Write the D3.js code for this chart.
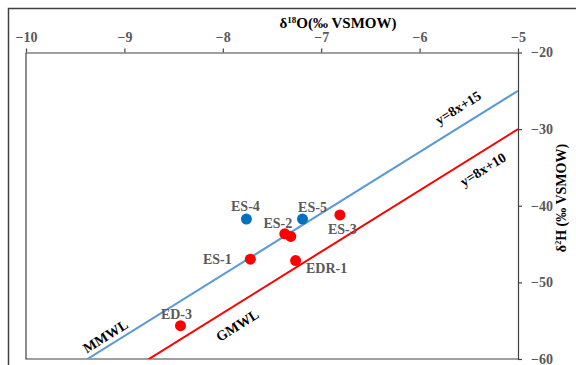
<!DOCTYPE html>
<html>
<head>
<meta charset="utf-8">
<script src="https://cdn.jsdelivr.net/npm/d3@7"></script>
<style>
  body { margin: 0; background: #fff; }
  svg text { font-family: "Liberation Serif", "Times New Roman", serif; font-weight: bold; }
</style>
</head>
<body>
<div id="chart"></div>
<script>
// Sample values
var sampleNames = ["ES-1", "ES-2", "ES-2", "ES-3", "ES-4", "ES-5", "EDR-1", "ED-3"];
var d18O = [-7.72, -7.37, -7.31, -6.81, -7.76, -7.19, -7.26, -8.43];
var d2H = [-46.97, -43.66, -44.0, -41.2, -41.74, -41.74, -47.15, -55.65];
var sampleGroup = ["red", "red", "red", "red", "blue", "blue", "red", "red"];
var showLabel = [true, true, false, true, true, true, true, true];

// Meteoric water lines: dD = slope * d18O + intercept
var lineNames = ["MMWL", "GMWL"];
var lineSlopes = [8, 8];
var lineIntercepts = [15, 10];
var lineEquations = ["y=8x+15", "y=8x+10"];

var xTicks = [-10, -9, -8, -7, -6, -5];
var yTicks = [-60, -50, -40, -30, -20];

var width = 576,
    height = 365;

var plot = { left: 26, right: 518, top: 52.5, bottom: 359 };

var svg = d3.select("#chart")
    .append("svg")
    .attr("width", width)
    .attr("height", height);

// outer chart frame (runs off the right and bottom edges)
svg.append("rect")
    .attr("x", 8.5)
    .attr("y", 8.5)
    .attr("width", width + 20)
    .attr("height", height + 20)
    .attr("fill", "none")
    .attr("stroke", "#404040")
    .attr("stroke-width", 1.5);

var x = d3.scaleLinear().domain([-10, -5]).range([plot.left, plot.right]);
var y = d3.scaleLinear().domain([-60, -20]).range([plot.bottom, plot.top]);

// plot area border on the left and bottom
svg.append("path")
    .attr("d", "M" + plot.left + "," + plot.top + "V" + plot.bottom + "H" + plot.right)
    .attr("fill", "none")
    .attr("stroke", "#404040")
    .attr("stroke-width", 1.2);

var tickColor = "#595959";

// top x axis
var xAxis = svg.append("g")
    .attr("transform", "translate(0," + plot.top + ")")
    .call(d3.axisTop(x).tickValues(xTicks).tickSize(4).tickSizeOuter(0).tickPadding(7).tickFormat(d3.format("d")));

// right y axis
var yAxis = svg.append("g")
    .attr("transform", "translate(" + plot.right + ",0)")
    .call(d3.axisRight(y).tickValues(yTicks).tickSize(4).tickSizeOuter(0).tickPadding(9).tickFormat(d3.format("d")));

[xAxis, yAxis].forEach(function(ax) {
    ax.select(".domain").attr("stroke", "#404040").attr("stroke-width", 1.2);
    ax.selectAll(".tick line").attr("stroke", "#404040").attr("stroke-width", 1.2);
    ax.selectAll(".tick text")
        .attr("fill", tickColor)
        .style("font-size", "14px")
        .style("font-family", "Liberation Serif, serif")
        .style("font-weight", "bold");
});

// axis titles
var xTitle = svg.append("text")
    .attr("x", 338)
    .attr("y", 28)
    .attr("text-anchor", "middle")
    .style("font-size", "15px")
    .attr("fill", "#000");
xTitle.append("tspan").text("δ");
xTitle.append("tspan").attr("dy", -5).style("font-size", "9px").text("18");
xTitle.append("tspan").attr("dy", 5).text("O(‰ VSMOW)");

var yTitle = svg.append("text")
    .attr("transform", "translate(566,198)rotate(-90)")
    .attr("text-anchor", "middle")
    .style("font-size", "14px")
    .attr("fill", "#000");
yTitle.append("tspan").text("δ");
yTitle.append("tspan").attr("dy", -5).style("font-size", "8px").text("2");
yTitle.append("tspan").attr("dy", 5).text("H (‰ VSMOW)");

// clip to plot area
svg.append("clipPath")
    .attr("id", "plot-clip")
    .append("rect")
    .attr("x", plot.left)
    .attr("y", plot.top)
    .attr("width", plot.right - plot.left)
    .attr("height", plot.bottom - plot.top);

var lineColors = ["#5B9BD5", "#FF0000"];

lineNames.forEach(function(name, i) {
    var f = function(v) { return lineSlopes[i] * v + lineIntercepts[i]; };
    svg.append("line")
        .attr("clip-path", "url(#plot-clip)")
        .attr("x1", x(-10)).attr("y1", y(f(-10)))
        .attr("x2", x(-5)).attr("y2", y(f(-5)))
        .attr("stroke", lineColors[i])
        .attr("stroke-width", 2);
});

// slope angle of the lines in screen space
var angle = Math.atan2(y(lineSlopes[0] * -5) - y(lineSlopes[0] * -6), x(-5) - x(-6)) * 180 / Math.PI;

// line labels: line index, anchor d18O on the line, perpendicular offset
var lineLabels = [
    { text: lineEquations[0], line: 0, at: -5.515, off: -17.5 },
    { text: lineEquations[1], line: 1, at: -5.44, off: 15.5 },
    { text: lineNames[0], line: 0, at: -9.14, off: -10 },
    { text: lineNames[1], line: 1, at: -7.95, off: 18 }
];

lineLabels.forEach(function(l) {
    var yv = lineSlopes[l.line] * l.at + lineIntercepts[l.line];
    svg.append("text")
        .attr("transform", "translate(" + x(l.at) + "," + y(yv) + ")rotate(" + angle + ")")
        .attr("y", l.off)
        .attr("dy", "0.35em")
        .attr("text-anchor", "middle")
        .style("font-size", "14px")
        .attr("fill", "#000")
        .text(l.text);
});

// sample points
var pointColor = { red: "#FF0000", blue: "#0070C0" };
var idx = d3.range(d18O.length);

svg.append("g")
    .selectAll("circle")
    .data(idx)
    .enter()
    .append("circle")
    .attr("cx", function(i) { return x(d18O[i]); })
    .attr("cy", function(i) { return y(d2H[i]); })
    .attr("r", 5.5)
    .attr("fill", function(i) { return pointColor[sampleGroup[i]]; });

// sample label offsets from their point (px)
var labelDx = [-33, -7, 0, 2.5, -1, 10, 31, -4];
var labelDy = [0, -11, 0, 14, -13, -12, 8, -12];

svg.append("g")
    .selectAll("text")
    .data(idx.filter(function(i) { return showLabel[i]; }))
    .enter()
    .append("text")
    .attr("x", function(i) { return x(d18O[i]) + labelDx[i]; })
    .attr("y", function(i) { return y(d2H[i]) + labelDy[i]; })
    .attr("dy", "0.35em")
    .attr("text-anchor", "middle")
    .style("font-size", "14px")
    .attr("fill", "#595959")
    .text(function(i) { return sampleNames[i]; });
</script>
</body>
</html>
